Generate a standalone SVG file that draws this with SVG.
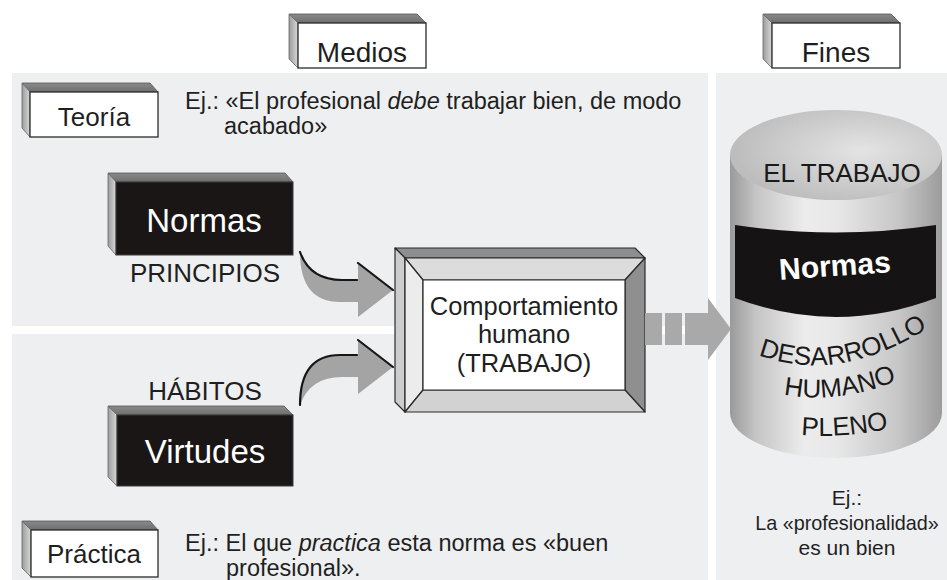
<svg xmlns="http://www.w3.org/2000/svg" width="947" height="580" viewBox="0 0 947 580">
<defs>
<style>
text{font-family:"Liberation Sans",Arial,Helvetica,sans-serif;fill:#1f1f1f}
.panel{fill:#eeeff1}
.front{fill:#ffffff;stroke:#2a2a2a;stroke-width:1.3}
.dark{fill:#1a1616;stroke:#3a3a3a;stroke-width:1}
.topf{fill:url(#gTop);stroke:#555;stroke-width:0.8}
.leftf{fill:url(#gLeft);stroke:#666;stroke-width:0.8}
.lbl{font-size:28px;text-anchor:middle}
.lbl2{font-size:26px;text-anchor:middle}
.big{font-size:33px;text-anchor:middle;fill:#ffffff}
.white{fill:#ffffff}
.ex{font-size:23.5px}
.cyl{font-size:26px;fill:#1a1a1a}
.arrowfill{fill:#a4a4a4}
.edge{fill:none;stroke:#161616;stroke-width:2.2;stroke-linecap:round}
.bev{stroke:#2a2a2a;stroke-width:1.2;stroke-linejoin:round}
</style>
<linearGradient id="gTop" x1="0" y1="0" x2="0" y2="1">
<stop offset="0" stop-color="#8a8a8a"/><stop offset="1" stop-color="#6e6e6e"/>
</linearGradient>
<linearGradient id="gLeft" x1="0" y1="0" x2="1" y2="0">
<stop offset="0" stop-color="#9c9c9c"/><stop offset="1" stop-color="#d8d8d8"/>
</linearGradient>
<linearGradient id="gBody" x1="0" y1="0" x2="1" y2="0">
<stop offset="0" stop-color="#9a9a9a"/><stop offset="0.12" stop-color="#c4c4c4"/><stop offset="0.35" stop-color="#ececec"/><stop offset="0.5" stop-color="#e8e8e8"/><stop offset="0.8" stop-color="#c6c6c6"/><stop offset="1" stop-color="#9c9c9c"/>
</linearGradient>
<radialGradient id="gCap" cx="0.62" cy="0.45" r="0.6">
<stop offset="0" stop-color="#e4e4e4"/><stop offset="1" stop-color="#bdbdbd"/>
</radialGradient>
</defs>

<rect width="947" height="580" fill="#ffffff"/>

<g id="panels">
<rect class="panel" x="12" y="73" width="696" height="253"/>
<rect class="panel" x="12" y="334" width="696" height="246"/>
<rect class="panel" x="716" y="73" width="231" height="507"/>
</g>

<g id="box-medios">
<polygon class="topf" points="289,14 417,14 426,23 298,23"/>
<polygon class="leftf" points="289,14 298,23 298,68 289,59"/>
<rect class="front" x="298" y="23" width="128" height="45"/>
<text class="lbl" x="362" y="62">Medios</text>
</g>

<g id="box-fines">
<polygon class="topf" points="763,14 891,14 900,23 772,23"/>
<polygon class="leftf" points="763,14 772,23 772,68 763,59"/>
<rect class="front" x="772" y="23" width="128" height="45"/>
<text class="lbl" x="836" y="62">Fines</text>
</g>

<g id="box-teoria">
<polygon class="topf" points="22,83 150,83 158,92 30,92"/>
<polygon class="leftf" points="22,83 30,92 30,137 22,128"/>
<rect class="front" x="30" y="92" width="128" height="45"/>
<text class="lbl2" x="94" y="126">Teoría</text>
</g>

<g id="text-teoria-ej">
<text class="ex" x="185" y="109">Ej.: «El profesional <tspan font-style="italic">debe</tspan> trabajar bien, de modo</text>
<text class="ex" x="224" y="134">acabado»</text>
</g>

<g id="node-normas">
<polygon class="topf" points="108,173 285,173 293,182 116,182"/>
<polygon class="leftf" points="108,173 116,182 116,255 108,246"/>
<rect class="dark" x="116" y="182" width="177" height="73"/>
<text class="big" x="204" y="232">Normas</text>
</g>
<text id="label-principios" class="lbl2" x="205" y="282">PRINCIPIOS</text>

<text id="label-habitos" class="lbl2" x="205" y="400">HÁBITOS</text>
<g id="node-virtudes">
<polygon class="topf" points="108,406 284,406 293,415 117,415"/>
<polygon class="leftf" points="108,406 117,415 117,486 108,477"/>
<rect class="dark" x="117" y="415" width="176" height="71"/>
<text class="big" x="205" y="463">Virtudes</text>
</g>

<g id="box-practica">
<polygon class="topf" points="22,521 150,521 158,530 31,530"/>
<polygon class="leftf" points="22,521 31,530 31,577 22,568"/>
<rect class="front" x="31" y="530" width="127" height="47"/>
<text class="lbl2" x="94" y="563">Práctica</text>
</g>

<g id="text-practica-ej">
<text class="ex" x="185" y="551">Ej.: El que <tspan font-style="italic">practica</tspan> esta norma es «buen</text>
<text class="ex" x="226" y="576">profesional».</text>
</g>

<g id="node-comportamiento">
<polygon points="395,248 635,248 645,258 405,258" fill="#8e8e8e" class="bev"/>
<polygon points="395,248 405,258 405,412 395,402" fill="#cdcdcd" class="bev"/>
<polygon points="405,258 645,258 625,280 423,280" fill="#dcdcdc" class="bev"/>
<polygon points="405,258 423,280 423,390 405,412" fill="#ececec" class="bev"/>
<polygon points="645,258 645,412 625,390 625,280" fill="#8f8f8f" class="bev"/>
<polygon points="405,412 645,412 625,390 423,390" fill="#d2d2d2" class="bev"/>
<rect x="423" y="280" width="202" height="110" fill="#ffffff" class="bev"/>
<text x="524" y="315" font-size="25.5" text-anchor="middle">Comportamiento</text>
<text x="524" y="343" font-size="25.5" text-anchor="middle">humano</text>
<text x="524" y="372" font-size="25.5" text-anchor="middle">(TRABAJO)</text>
</g>

<g id="node-trabajo">
<path d="M730,155 L730,413 A106,45 0 0 0 942,413 L942,155 Z" fill="url(#gBody)"/>
<ellipse cx="836" cy="155" rx="106" ry="45" fill="url(#gCap)"/>
<text class="cyl" x="842" y="182" text-anchor="middle">EL TRABAJO</text>
<path d="M735,225 Q836,240 936,225 L936,298 Q836,336 735,298 Z" fill="#151313"/>
<text class="white" x="835" y="276" font-size="30" font-weight="bold" text-anchor="middle" transform="rotate(-4 835 268)">Normas</text>
<path id="arcDes" d="M738,346 Q835,396 946,316" fill="none"/>
<path id="arcHum" d="M776,393 Q836,407 904,378" fill="none"/>
<path id="arcPle" d="M794,434 Q840,440 896,427" fill="none"/>
<text class="cyl" font-size="27"><textPath href="#arcDes" startOffset="50%" text-anchor="middle">DESARROLLO</textPath></text>
<text class="cyl"><textPath href="#arcHum" startOffset="50%" text-anchor="middle">HUMANO</textPath></text>
<text class="cyl"><textPath href="#arcPle" startOffset="50%" text-anchor="middle">PLENO</textPath></text>
</g>

<g id="text-fines-ej">
<text x="847" y="505" font-size="21" text-anchor="middle">Ej.:</text>
<text x="847" y="530" font-size="19.8" text-anchor="middle">La «profesionalidad»</text>
<text x="847" y="555" font-size="21" text-anchor="middle">es un bien</text>
</g>

<g id="connectors">
<g id="arrow-normas">
<path class="arrowfill" d="M300,252 Q310,280 342,280 L358,280 L358,263 L393,290 L358,317 L358,302 L340,302 Q300,302 300,252 Z"/>
<path class="edge" d="M300,252 Q310,280 342,280 L357,280 M358,263 L393,290"/>
</g>
<g id="arrow-virtudes" transform="matrix(1,0,0,-1,0,657)">
<path class="arrowfill" d="M300,252 Q310,280 342,280 L358,280 L358,263 L393,290 L358,317 L358,302 L340,302 Q300,302 300,252 Z"/>
<path class="edge" d="M300,252 Q300,302 340,302 L357,302 M358,317 L393,290"/>
</g>
<g id="arrow-fines" fill="#a9a9a9">
<rect x="645" y="313" width="17" height="32"/>
<rect x="665" y="313" width="17" height="32"/>
<polygon points="685,313 708,313 708,298 731,329 708,360 708,345 685,345"/>
</g>
</g>
</svg>
